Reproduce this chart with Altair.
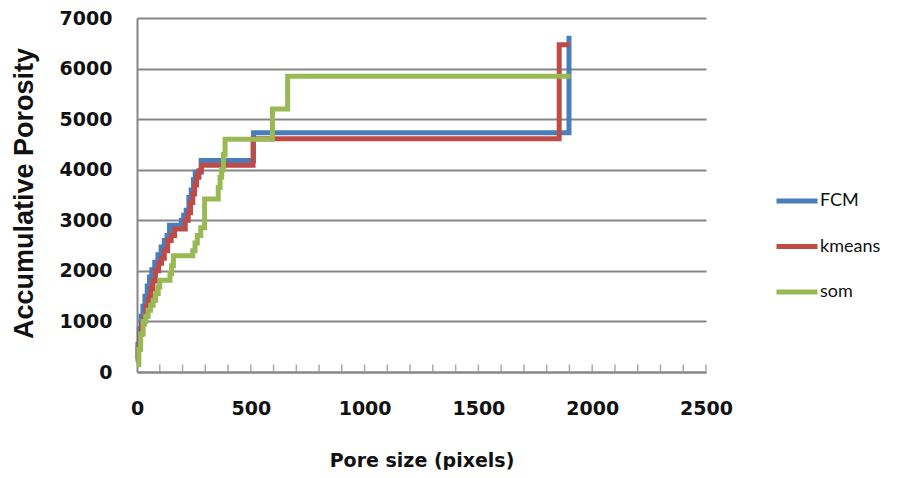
import altair as alt
import pandas as pd

series_names = ["FCM", "kmeans", "som"]
series_colors = ["#4A7EBB", "#BE4B48", "#98B954"]

fcm_x = [0, 4, 10, 18, 26, 35, 45, 55, 65, 78, 92, 106, 120, 132, 143, 195, 205, 216, 228, 238, 248, 256, 282, 512, 1898]
fcm_y = [250, 550, 850, 1100, 1300, 1500, 1700, 1880, 2020, 2170, 2320, 2470, 2600, 2700, 2900, 3000, 3100, 3200, 3450, 3600, 3800, 3950, 4180, 4730, 6650]

km_x = [0, 5, 12, 20, 31, 40, 50, 60, 70, 81, 95, 108, 120, 135, 150, 165, 212, 225, 235, 245, 253, 262, 272, 283, 510, 1855, 1900]
km_y = [200, 450, 750, 950, 1100, 1300, 1450, 1650, 1800, 2000, 2150, 2250, 2400, 2600, 2700, 2830, 3000, 3150, 3350, 3520, 3700, 3850, 3980, 4090, 4610, 6470, 6470]

som_x = [0, 8, 16, 27, 38, 49, 60, 71, 82, 93, 100, 145, 152, 160, 245, 255, 265, 280, 297, 357, 365, 372, 380, 387, 595, 662, 1905]
som_y = [150, 450, 750, 1000, 1100, 1220, 1320, 1420, 1550, 1680, 1814, 1950, 2100, 2300, 2400, 2550, 2700, 2850, 3420, 3650, 3850, 4000, 4300, 4600, 5200, 5850, 5850]

x_labels = [0, 500, 1000, 1500, 2000, 2500]
y_labels = [0, 1000, 2000, 3000, 4000, 5000, 6000, 7000]
minor_ticks = list(range(100, 2501, 100))

rows = []
for name, xs, ys in zip(series_names, [fcm_x, km_x, som_x], [fcm_y, km_y, som_y]):
    for xv, yv in zip(xs, ys):
        rows.append({"series": name, "size": xv, "porosity": yv})
df = pd.DataFrame(rows)

x_scale = alt.Scale(domain=[0, 2500], nice=False)
y_scale = alt.Scale(domain=[0, 7000], nice=False)
GRAY = "#868686"

x_axis = alt.Axis(
    values=x_labels, format="d", title="Pore size (pixels)", grid=False, tickSize=0,
    labelFlush=False, labelPadding=27, labelFont="DejaVu Sans", labelFontWeight="bold", labelFontSize=19,
    labelColor="#111111", titleFont="DejaVu Sans", titleFontWeight="bold", titleFontSize=19,
    titleColor="#111111", titleY=88, titleBaseline="middle",
    domainColor=GRAY, domainWidth=2)

lines = alt.Chart(df).mark_line(interpolate="step-after", strokeWidth=5).encode(
    x=alt.X("size:Q", scale=x_scale, axis=x_axis),
    y=alt.Y("porosity:Q", scale=y_scale, axis=alt.Axis(
        values=y_labels, format="d", title="Accumulative Porosity", grid=True, gridColor=GRAY, gridWidth=2,
        tickSize=0, labelPadding=25, labelFont="DejaVu Sans", labelFontWeight="bold", labelFontSize=19,
        labelColor="#111111", titleFont="Liberation Sans", titleFontWeight="bold", titleFontSize=27,
        titleColor="#111111", titleX=-113, titleY=175, titleAngle=270, titleBaseline="middle",
        titleAlign="center", domainColor=GRAY, domainWidth=2)),
    color=alt.Color("series:N", sort=series_names,
                    scale=alt.Scale(domain=series_names, range=series_colors),
                    legend=alt.Legend(title=None, orient="none", legendX=647, legendY=170,
                                      symbolType="M-2,0H2", symbolSize=420, symbolStrokeWidth=5,
                                      labelFont="Lato", labelFontSize=18, labelColor="#111111",
                                      labelOffset=10, rowPadding=22.5, padding=0)),
)

ticks = alt.Chart(pd.DataFrame({"size": minor_ticks})).mark_tick(
    orient="vertical", size=7, thickness=1.5, color=GRAY
).encode(
    x=alt.X("size:Q", scale=x_scale, axis=x_axis),
    y=alt.value(350),
)

chart = alt.layer(lines, ticks).properties(
    width=569, height=354,
    autosize=alt.AutoSizeParams(type="none"),
    padding={"left": 129, "top": 10, "right": 208, "bottom": 98},
).configure_view(stroke=None)

chart.save("out.html", embed_options={"renderer": "svg", "actions": False})
